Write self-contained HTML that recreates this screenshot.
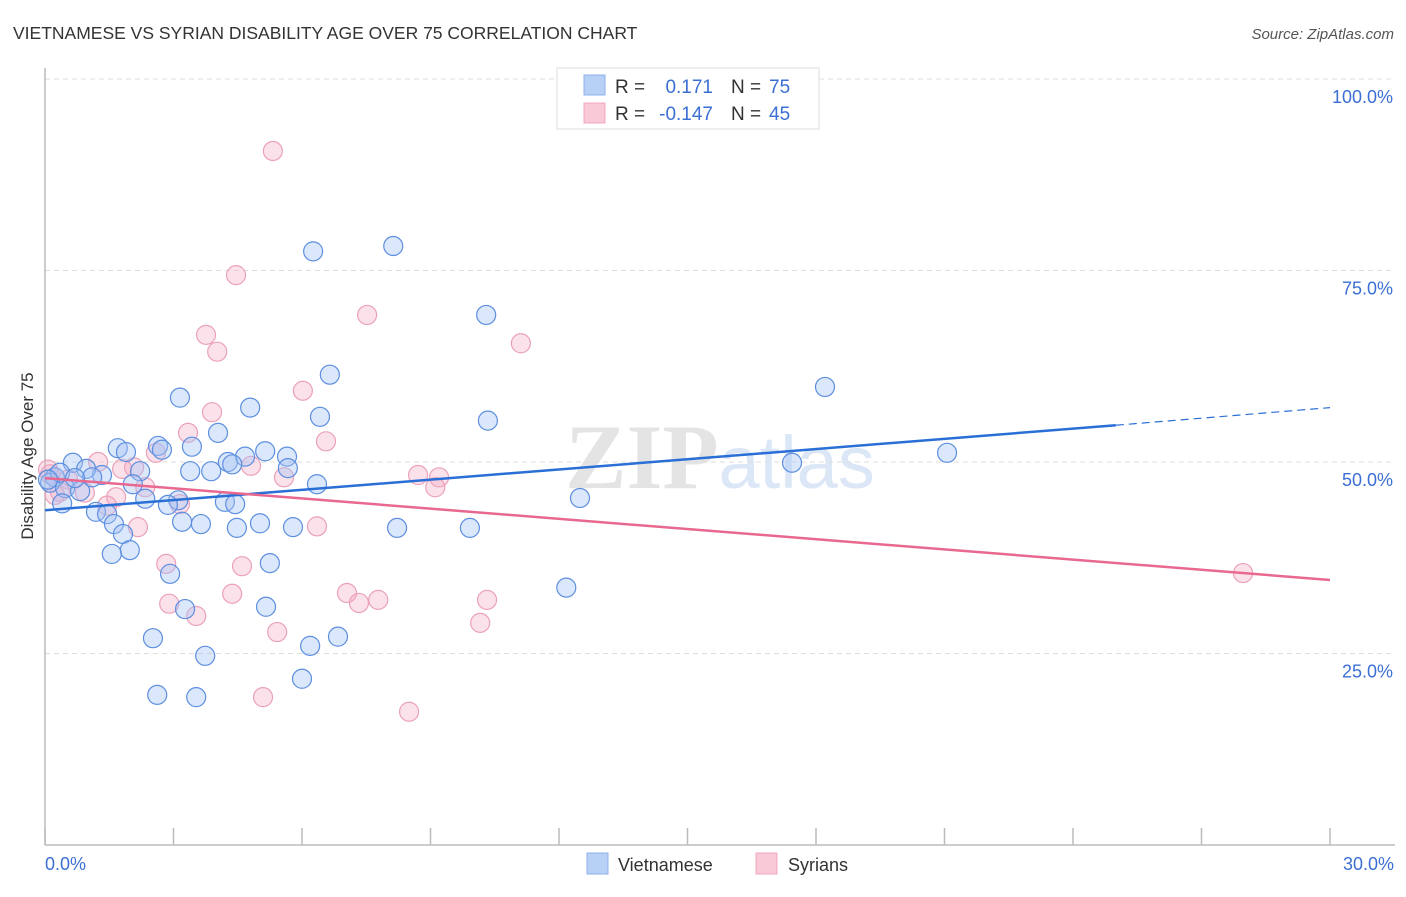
<!DOCTYPE html>
<html><head><meta charset="utf-8"><style>
body{margin:0;background:#fff;width:1406px;height:892px;overflow:hidden;font-family:"Liberation Sans",sans-serif}
</style></head><body>
<svg id="chart" width="1406" height="892" xmlns="http://www.w3.org/2000/svg" font-family="Liberation Sans, sans-serif">
<text x="13" y="39" font-size="17.5" fill="#333">VIETNAMESE VS SYRIAN DISABILITY AGE OVER 75 CORRELATION CHART</text>
<text x="1394" y="39" font-size="15" fill="#555" font-style="italic" text-anchor="end">Source: ZipAtlas.com</text>
<text x="720" y="488" font-size="92" fill="#e4e4e4" text-anchor="middle" font-family="Liberation Serif, serif" font-weight="bold">ZIP<tspan fill="#dbe6f7" font-family="Liberation Sans, sans-serif" font-weight="normal" font-size="74">atlas</tspan></text>
<g id="grid"></g>
<g id="ticks"></g>
<line x1="45" y1="68" x2="45" y2="845" stroke="#bbb" stroke-width="1.5"/>
<line x1="45" y1="845" x2="1395" y2="845" stroke="#bbb" stroke-width="1.5"/>
<text transform="translate(33,456) rotate(-90)" font-size="17" fill="#333" text-anchor="middle">Disability Age Over 75</text>
<text x="45" y="870" font-size="18" fill="#3b6fd4">0.0%</text>
<text x="1394" y="870" font-size="18" fill="#3b6fd4" text-anchor="end">30.0%</text>
<g id="points"></g>
<g id="trends"></g>
<g>
<rect x="557" y="68" width="262" height="61" fill="#fff" stroke="#ddd"/>
<rect x="584" y="75" width="21" height="20" fill="#b7d0f5" stroke="#8fb2ea"/>
<rect x="584" y="103" width="21" height="20" fill="#f9c9d7" stroke="#f0a8bf"/>
<text x="615" y="93" font-size="19" fill="#333">R =</text>
<text x="713" y="93" font-size="19" fill="#3b6fd4" text-anchor="end">0.171</text>
<text x="731" y="93" font-size="19" fill="#333">N =</text>
<text x="769" y="93" font-size="19" fill="#3b6fd4">75</text>
<text x="615" y="120" font-size="19" fill="#333">R =</text>
<text x="713" y="120" font-size="19" fill="#3b6fd4" text-anchor="end">-0.147</text>
<text x="731" y="120" font-size="19" fill="#333">N =</text>
<text x="769" y="120" font-size="19" fill="#3b6fd4">45</text>
</g>
<g>
<rect x="587" y="853" width="21" height="21" fill="#b7d0f5" stroke="#8fb2ea"/>
<text x="618" y="871" font-size="18" fill="#333">Vietnamese</text>
<rect x="756" y="853" width="21" height="21" fill="#f9c9d7" stroke="#f0a8bf"/>
<text x="788" y="871" font-size="18" fill="#333">Syrians</text>
</g>
</svg>
<script>
const yTicks=[25,50,75,100];
const yTickLabels=["25.0%","50.0%","75.0%","100.0%"];
const xTicks=[0,3,6,9,12,15,18,21,24,27,30];
const vietX=[6.26,8.13,10.30,6.65,18.21,3.15,4.79,6.42,10.34,4.04,2.64,1.70,1.89,3.43,5.14,4.67,5.65,2.73,17.44,21.06,0.65,4.27,4.37,5.67,3.39,3.88,2.22,1.33,0.96,1.10,0.23,0.12,0.47,0.82,2.05,6.35,2.34,3.11,2.87,4.20,4.44,0.40,12.49,1.19,1.45,1.61,3.20,3.64,4.48,5.02,5.79,8.22,9.92,1.82,1.98,1.56,5.25,2.92,12.17,5.16,3.27,2.52,6.84,6.19,3.74,6.00,2.62,3.53,0.35,0.07,0.70];
const vietY=[77.5,78.2,69.2,61.4,59.8,58.4,57.1,55.9,55.4,53.8,52.1,51.8,51.3,52.0,51.4,50.7,50.7,51.6,49.9,51.2,49.9,50.0,49.7,49.2,48.8,48.8,48.8,48.3,49.1,48.0,48.0,47.3,46.6,46.2,47.1,47.1,45.2,45.0,44.4,44.8,44.5,44.6,45.3,43.5,43.2,41.9,42.2,41.9,41.4,42.0,41.5,41.4,41.4,40.6,38.5,38.0,36.8,35.4,33.6,31.1,30.8,27.0,27.2,26.0,24.7,21.7,19.6,19.3,48.6,47.7,47.9];
const syrX=[5.32,4.46,7.52,3.76,4.02,11.11,6.02,3.90,3.34,6.56,2.59,1.24,4.81,2.08,1.80,8.71,9.20,5.58,9.11,0.12,0.54,0.35,1.66,1.45,3.15,2.17,6.35,2.83,4.60,4.37,7.05,7.78,7.33,10.32,2.90,3.53,5.42,10.16,5.09,8.50,27.97,0.07,0.93,2.34,0.23];
const syrY=[90.6,74.4,69.2,66.6,64.4,65.5,59.3,56.5,53.8,52.7,51.2,50.0,49.5,49.3,49.1,48.3,48.0,48.0,46.7,48.4,47.7,46.1,45.4,44.3,44.5,41.5,41.6,36.7,36.4,32.8,32.9,32.0,31.6,32.0,31.5,29.9,27.8,29.0,19.3,17.4,35.5,49.0,46.0,46.7,45.7];
const vietTrend=[[0,43.7],[25,54.8]];
const vietTrendExt=[[25,54.8],[30,57.1]];
const syrTrend=[[0,47.9],[30,34.6]];
const X0=45,X1=1330,Y0=845,Y100=79;
const sx=v=>X0+(v/30)*(X1-X0);
const sy=v=>Y0-(v/100)*(Y0-Y100);
const NS="http://www.w3.org/2000/svg";
function mk(t,a,p){const e=document.createElementNS(NS,t);for(const k in a)e.setAttribute(k,a[k]);p.appendChild(e);return e;}
const grid=document.getElementById('grid');
yTicks.forEach((t,i)=>{
 const l=mk('line',{x1:45,x2:1395,y1:sy(t),y2:sy(t),stroke:'#ddd','stroke-dasharray':'5,4'},grid);
 
 
 const tx=mk('text',{x:1393,y:sy(t)+24,'font-size':18,fill:'#3b6fd4','text-anchor':'end'},grid);
 tx.textContent=yTickLabels[i];
 
 
});
const ticks=document.getElementById('ticks');
xTicks.forEach(t=>{
 const l=mk('line',{x1:sx(t),x2:sx(t),y1:828,y2:845,stroke:'#bbb','stroke-width':1.5},ticks);
 
 
});
const pts=document.getElementById('points');


syrX.forEach((x,i)=>{
 const c=mk('circle',{cx:sx(x),cy:sy(syrY[i]),r:9.5,fill:'rgba(244,170,195,0.35)',stroke:'#eba1ba','stroke-width':1.2},pts);
 
 
});
vietX.forEach((x,i)=>{
 const c=mk('circle',{cx:sx(x),cy:sy(vietY[i]),r:9.5,fill:'rgba(164,194,244,0.4)',stroke:'#5d8fe0','stroke-width':1.2},pts);
 
 
});
const tr=document.getElementById('trends');
let l1=mk('line',{x1:sx(vietTrend[0][0]),y1:sy(vietTrend[0][1]),x2:sx(vietTrend[1][0]),y2:sy(vietTrend[1][1]),stroke:'#2a6fd6','stroke-width':2.5},tr);


let l2=mk('line',{x1:sx(vietTrendExt[0][0]),y1:sy(vietTrendExt[0][1]),x2:sx(vietTrendExt[1][0]),y2:sy(vietTrendExt[1][1]),stroke:'#2a6fd6','stroke-width':1.2,'stroke-dasharray':'8,5'},tr);


let l3=mk('line',{x1:sx(syrTrend[0][0]),y1:sy(syrTrend[0][1]),x2:sx(syrTrend[1][0]),y2:sy(syrTrend[1][1]),stroke:'#e8688f','stroke-width':2.5},tr);


</script>
</body></html>
